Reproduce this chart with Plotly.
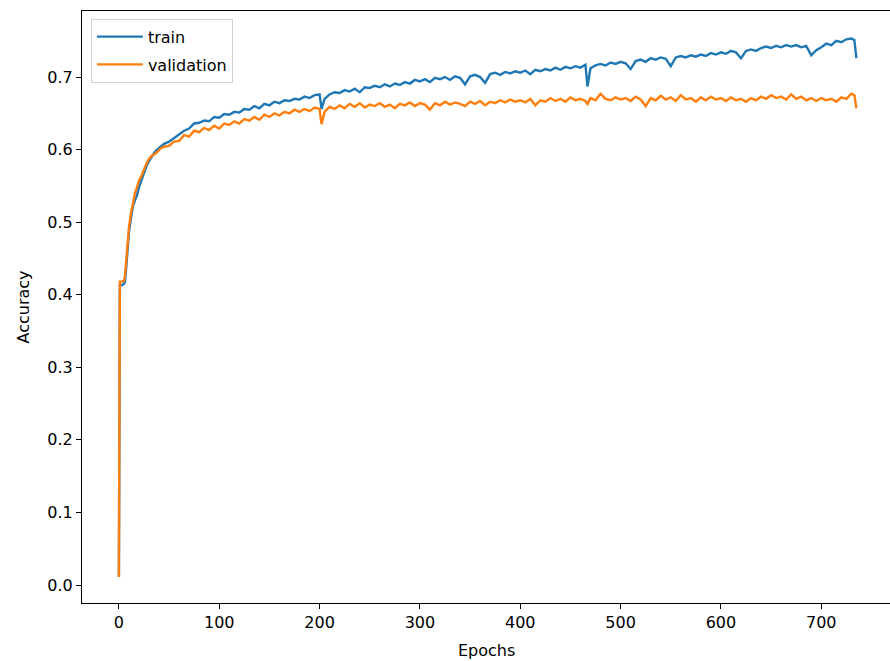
import plotly.graph_objects as go

# Training history: accuracy per epoch for the training and validation sets
epochs = [0, 1, 2, 3, 4, 5, 6, 7, 8, 9, 10, 12, 14, 16, 18, 20, 22, 24, 26, 28, 30, 33, 36, 39, 42, 45,
          50, 55, 60, 65, 70, 75, 80, 85, 90, 95, 100, 105, 110, 115, 120, 125, 130, 135, 140, 145,
          150, 155, 160, 165, 170, 175, 180, 185, 190, 195, 200, 202, 205, 210, 215, 220, 225, 230,
          235, 240, 245, 250, 255, 260, 265, 270, 275, 280, 285, 290, 295, 300, 305, 310, 315, 320,
          325, 330, 335, 340, 345, 350, 355, 360, 365, 370, 375, 380, 385, 390, 395, 400, 405, 410,
          415, 420, 425, 430, 435, 440, 445, 450, 455, 460, 465, 467, 470, 475, 480, 485, 490, 495,
          500, 505, 510, 515, 520, 525, 530, 535, 540, 545, 550, 555, 560, 565, 570, 575, 580, 585,
          590, 595, 600, 605, 610, 615, 620, 625, 630, 635, 640, 645, 650, 655, 660, 665, 670, 675,
          680, 685, 690, 695, 700, 705, 710, 715, 720, 725, 730, 733, 735]

train_acc = [0.011, 0.414, 0.413, 0.413, 0.414, 0.415, 0.418, 0.432, 0.452, 0.470, 0.486, 0.505, 0.522,
             0.530, 0.537, 0.548, 0.556, 0.566, 0.574, 0.579, 0.584, 0.591, 0.597, 0.601, 0.604, 0.608,
             0.611, 0.616, 0.621, 0.626, 0.629, 0.636, 0.637, 0.640, 0.639, 0.645, 0.644, 0.649, 0.648,
             0.652, 0.651, 0.656, 0.655, 0.660, 0.657, 0.663, 0.661, 0.666, 0.664, 0.668, 0.667, 0.670,
             0.669, 0.673, 0.671, 0.675, 0.676, 0.656, 0.670, 0.676, 0.679, 0.678, 0.682, 0.680, 0.684,
             0.679, 0.686, 0.685, 0.688, 0.686, 0.690, 0.687, 0.691, 0.689, 0.693, 0.691, 0.696, 0.694,
             0.697, 0.693, 0.699, 0.697, 0.700, 0.696, 0.701, 0.699, 0.690, 0.701, 0.703, 0.700, 0.692,
             0.704, 0.706, 0.703, 0.707, 0.705, 0.708, 0.706, 0.709, 0.704, 0.710, 0.708, 0.711, 0.709,
             0.713, 0.710, 0.714, 0.712, 0.715, 0.713, 0.717, 0.687, 0.712, 0.716, 0.718, 0.716, 0.720,
             0.718, 0.721, 0.719, 0.711, 0.722, 0.724, 0.721, 0.726, 0.724, 0.727, 0.725, 0.715, 0.727,
             0.729, 0.727, 0.730, 0.728, 0.731, 0.729, 0.733, 0.731, 0.734, 0.732, 0.736, 0.734, 0.726,
             0.736, 0.738, 0.736, 0.740, 0.742, 0.740, 0.743, 0.741, 0.744, 0.742, 0.744, 0.741, 0.743,
             0.730, 0.737, 0.741, 0.746, 0.744, 0.750, 0.748, 0.752, 0.753, 0.751, 0.726]

val_acc = [0.011, 0.418, 0.418, 0.418, 0.418, 0.419, 0.425, 0.442, 0.460, 0.478, 0.492, 0.512, 0.528,
           0.540, 0.548, 0.557, 0.562, 0.570, 0.576, 0.582, 0.587, 0.592, 0.594, 0.598, 0.602, 0.604,
           0.605, 0.611, 0.612, 0.620, 0.618, 0.626, 0.624, 0.630, 0.627, 0.633, 0.629, 0.636, 0.634,
           0.639, 0.636, 0.642, 0.640, 0.645, 0.641, 0.648, 0.645, 0.650, 0.647, 0.652, 0.650, 0.655,
           0.652, 0.656, 0.653, 0.658, 0.656, 0.635, 0.652, 0.659, 0.656, 0.661, 0.657, 0.663, 0.659,
           0.664, 0.658, 0.662, 0.660, 0.664, 0.659, 0.662, 0.657, 0.663, 0.661, 0.665, 0.660, 0.664,
           0.662, 0.655, 0.664, 0.661, 0.666, 0.662, 0.665, 0.663, 0.660, 0.666, 0.663, 0.667, 0.661,
           0.666, 0.664, 0.668, 0.665, 0.669, 0.666, 0.668, 0.665, 0.670, 0.661, 0.668, 0.666, 0.671,
           0.667, 0.670, 0.666, 0.672, 0.668, 0.670, 0.667, 0.663, 0.671, 0.668, 0.677, 0.670, 0.668,
           0.672, 0.669, 0.671, 0.667, 0.673, 0.669, 0.660, 0.671, 0.668, 0.674, 0.669, 0.672, 0.667,
           0.675, 0.669, 0.671, 0.666, 0.672, 0.668, 0.673, 0.669, 0.671, 0.667, 0.672, 0.668, 0.670,
           0.666, 0.671, 0.668, 0.673, 0.670, 0.675, 0.671, 0.673, 0.669, 0.676, 0.670, 0.673, 0.668,
           0.671, 0.667, 0.671, 0.668, 0.670, 0.666, 0.672, 0.670, 0.677, 0.675, 0.657]

x_ticks = [0, 100, 200, 300, 400, 500, 600, 700]
y_ticks = [0.0, 0.1, 0.2, 0.3, 0.4, 0.5, 0.6, 0.7]

FONT = "DejaVu Sans"
FS = 16

fig = go.Figure()
fig.add_trace(go.Scatter(x=epochs, y=train_acc, mode="lines", name="train", legendgroup="train",
                         line=dict(color="#1f77b4", width=2.4)))
fig.add_trace(go.Scatter(x=epochs, y=val_acc, mode="lines", name="validation", legendgroup="val",
                         line=dict(color="#ff7f0e", width=2.4)))

axis_common = dict(
    showgrid=False, zeroline=False, showline=True, linecolor="black", linewidth=1.2,
    ticks="outside", ticklen=5, tickwidth=1.2, tickcolor="black",
    tickfont=dict(family=FONT, size=FS, color="black"),
)

fig.update_xaxes(range=[-36.75, 768.5], tickvals=x_ticks,
                 ticktext=[str(v) for v in x_ticks], mirror=True, **axis_common)
fig.update_yaxes(range=[-0.0248, 0.791], tickvals=y_ticks,
                 ticktext=[f"{v:.1f}" for v in y_ticks], mirror=False, **axis_common)

fig.update_layout(
    width=890, height=661,
    margin=dict(l=82, r=0, t=11, b=58),
    paper_bgcolor="white", plot_bgcolor="white",
    font=dict(family=FONT, size=FS, color="black"),
    showlegend=True,
    legend=dict(x=0.011, y=0.987, xanchor="left", yanchor="top",
                bgcolor="rgba(255,255,255,0.8)", bordercolor="#d0d0d0", borderwidth=1,
                font=dict(family=FONT, size=FS, color="black"),
                itemwidth=46, tracegroupgap=4),
    annotations=[
        dict(text="Epochs", xref="paper", yref="paper", x=0.5, y=0, xanchor="center",
             yanchor="top", yshift=-36, showarrow=False,
             font=dict(family=FONT, size=FS, color="black")),
        dict(text="Accuracy", xref="paper", yref="paper", x=0, y=0.5, xanchor="right",
             yanchor="middle", xshift=-48, textangle=-90, showarrow=False,
             font=dict(family=FONT, size=FS, color="black")),
    ],
)

fig.write_html("out.html")
